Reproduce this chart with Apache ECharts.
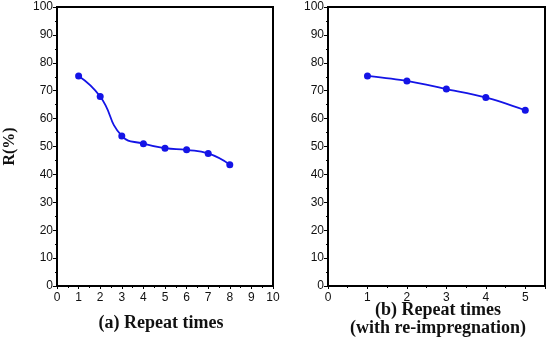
<!DOCTYPE html>
<html><head><meta charset="utf-8">
<script src="https://cdn.jsdelivr.net/npm/echarts@6/dist/echarts.min.js"></script>
<style>html,body{margin:0;padding:0;background:#fff}#c{width:550px;height:338px}</style>
</head><body><div id="c"></div>
<script>
const xA = [1,2,3,4,5,6,7,8];
const yA = [75.3,67.9,53.8,51.0,49.4,48.8,47.5,43.5];
const xB = [1,2,3,4,5];
const yB = [75.3,73.5,70.6,67.6,63.0];
const yTicks = [0,10,20,30,40,50,60,70,80,90,100];
const titleA = '(a) Repeat times';
const titleB = '(b) Repeat times\n(with re-impregnation)';
const yName = 'R(%)';

const chart = echarts.init(document.getElementById('c'), null, {renderer:'canvas'});
const lab = {color:'#111', fontSize:12, fontFamily:'Liberation Sans, Arial, sans-serif'};
const serif = 'Liberation Serif, Times New Roman, serif';
const titleStyle = {color:'#111', fontSize:18, fontWeight:'bold', fontFamily:serif, lineHeight:18};
function yAxis(i, name){
  return {gridIndex:i, type:'value', min:0, max:100, interval:10,
    name:name, nameLocation:'middle', nameGap:38, nameRotate:90,
    nameTextStyle:Object.assign({}, titleStyle, {fontSize:16}),
    axisLine:{show:true, lineStyle:{color:'#000', width:2}},
    axisTick:{show:true, inside:false, length:4, lineStyle:{color:'#000', width:1}},
    minorTick:{show:true, splitNumber:2, length:2, lineStyle:{color:'#000'}},
    axisLabel:Object.assign({margin:4, formatter:v=>yTicks.includes(v)?String(v):''}, lab),
    splitLine:{show:false}};
}
function xAxis(i, max){
  return {gridIndex:i, type:'value', min:0, max:max, interval:1,
    axisLine:{show:true, onZero:false, lineStyle:{color:'#000', width:2}},
    axisTick:{show:true, inside:false, length:3, lineStyle:{color:'#000'}},
    minorTick:{show:true, splitNumber:2, length:2, lineStyle:{color:'#000'}},
    axisLabel:Object.assign({margin:6, formatter:v=>Number.isInteger(v)?String(v):''}, lab),
    splitLine:{show:false}};
}
const lineStyle = {color:'#1414e6', width:1.8};
chart.setOption({
  animation:false,
  grid:[
    {left:57, right:277, top:7, bottom:52, show:true, borderColor:'#000', borderWidth:2, containLabel:false, outerBoundsMode:'none'},
    {left:328, right:5, top:7, bottom:52, show:true, borderColor:'#000', borderWidth:2, containLabel:false, outerBoundsMode:'none'}
  ],
  graphic:[
    {type:'text', x:161, y:323, style:{text:titleA, fill:'#111', font:'bold 18px '+serif, textAlign:'center', textVerticalAlign:'middle'}},
    {type:'text', x:438, y:319, style:{text:titleB, fill:'#111', font:'bold 18px '+serif, lineHeight:18, textAlign:'center', textVerticalAlign:'middle'}}
  ],
  xAxis:[xAxis(0,10), xAxis(1,5.5)],
  yAxis:[yAxis(0,yName), yAxis(1,'')],
  series:[
    {type:'line', xAxisIndex:0, yAxisIndex:0, data:xA.map((x,i)=>[x,yA[i]]), smooth:0.5,
     symbol:'circle', symbolSize:7, lineStyle:lineStyle, itemStyle:{color:'#1414e6'}},
    {type:'line', xAxisIndex:1, yAxisIndex:1, data:xB.map((x,i)=>[x,yB[i]]), smooth:0.3,
     symbol:'circle', symbolSize:7, lineStyle:lineStyle, itemStyle:{color:'#1414e6'}}
  ]
});
</script></body></html>
